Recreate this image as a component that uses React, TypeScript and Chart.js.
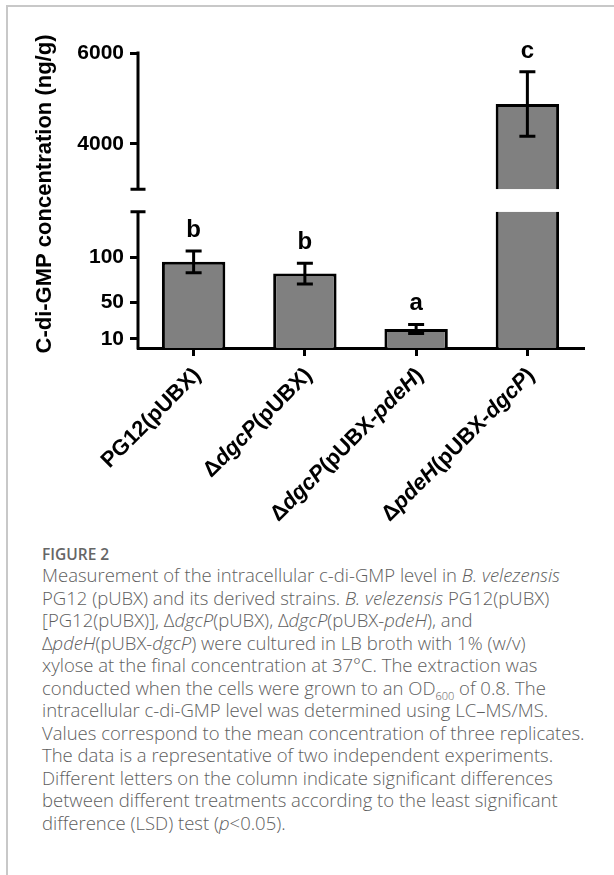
import React, { useEffect, useRef } from "react";
import { Chart, registerables } from "chart.js";

Chart.register(...registerables);

// ---- data ----
const categories = ["PG12(pUBX)", "ΔdgcP(pUBX)", "ΔdgcP(pUBX-pdeH)", "ΔpdeH(pUBX-dgcP)"];
const italicWords = ["dgcP", "pdeH"];
const means = [95, 82, 21, 4875];
const errors = [12, 11.5, 5, 710];
const letters = ["b", "b", "a", "c"];
const lowRange = [0, 150];
const highRange = [2500, 6000];
const highAxisStart = 3000;
const lowTicks = [10, 50, 100];
const highTicks = [4000, 6000];
const yTitle = "C-di-GMP concentration (ng/g)";

const FONT = "'Liberation Sans', Arial, sans-serif";

function splitItalic(label: string) {
  const re = new RegExp("(" + italicWords.join("|") + ")");
  return label
    .split(re)
    .filter((s) => s.length > 0)
    .map((s) => ({ t: s, i: italicWords.includes(s) }));
}

const scaleClip = {
  id: "scaleClip",
  beforeDatasetDraw(chart: any, args: any) {
    const ys = args.meta.yScale;
    const ca = chart.chartArea;
    const ctx = chart.ctx;
    ctx.save();
    ctx.beginPath();
    ctx.rect(ca.left - 5, ys.top, ca.right - ca.left + 10, ys.bottom - ys.top + 5);
    ctx.clip();
  },
  afterDatasetDraw(chart: any) {
    chart.ctx.restore();
  },
};

const decorations = {
  id: "decorations",
  afterDatasetsDraw(chart: any) {
    const ctx = chart.ctx;
    const xs = chart.scales.x;
    const yH = chart.scales.yHigh;
    const yL = chart.scales.yLow;
    const ca = chart.chartArea;
    const ax = ca.left;
    ctx.save();
    ctx.strokeStyle = "#000";
    ctx.lineWidth = 3;
    ctx.lineCap = "butt";
    const capHalf = 7.5;
    // broken y axis: upper segment
    let top = yH.getPixelForValue(highRange[1]) - 1.5;
    let bot = yH.getPixelForValue(highAxisStart);
    ctx.beginPath();
    ctx.moveTo(ax, top);
    ctx.lineTo(ax, bot + 1.5);
    ctx.moveTo(ax - capHalf, bot);
    ctx.lineTo(ax + capHalf, bot);
    ctx.stroke();
    // lower segment
    top = yL.getPixelForValue(lowRange[1]);
    bot = yL.getPixelForValue(lowRange[0]);
    ctx.beginPath();
    ctx.moveTo(ax, top - 1.5);
    ctx.lineTo(ax, bot + 1.5);
    ctx.moveTo(ax - capHalf, top);
    ctx.lineTo(ax + capHalf, top);
    ctx.stroke();

    // error bars + letters
    for (let i = 0; i < means.length; i++) {
      const sc = means[i] > lowRange[1] ? yH : yL;
      const x = xs.getPixelForValue(i);
      const yt = sc.getPixelForValue(means[i] + errors[i]);
      const yb = sc.getPixelForValue(means[i] - errors[i]);
      ctx.lineWidth = 3;
      ctx.beginPath();
      ctx.moveTo(x, yt);
      ctx.lineTo(x, yb);
      ctx.moveTo(x - 8, yt);
      ctx.lineTo(x + 8, yt);
      ctx.moveTo(x - 8, yb);
      ctx.lineTo(x + 8, yb);
      ctx.stroke();
      ctx.fillStyle = "#000";
      ctx.font = `bold 24px ${FONT}`;
      ctx.textAlign = "center";
      ctx.textBaseline = "alphabetic";
      ctx.fillText(letters[i], x, yt - 14);
    }

    // y title
    ctx.save();
    ctx.translate(45, 194);
    ctx.rotate(-Math.PI / 2);
    ctx.font = `bold 22px ${FONT}`;
    ctx.textAlign = "center";
    ctx.textBaseline = "middle";
    ctx.fillStyle = "#000";
    ctx.fillText(yTitle, 0, 0);
    ctx.restore();

    // x labels (rotated, with italic gene names)
    const axisY = ca.bottom;
    for (let i = 0; i < categories.length; i++) {
      const parts = splitItalic(categories[i]);
      const x = xs.getPixelForValue(i);
      ctx.save();
      ctx.translate(x + 4, axisY + 24);
      ctx.rotate(-Math.PI / 4);
      ctx.textBaseline = "middle";
      ctx.textAlign = "left";
      ctx.fillStyle = "#000";
      let total = 0;
      const widths = parts.map((p) => {
        ctx.font = `${p.i ? "italic " : ""}bold 22px ${FONT}`;
        const w = ctx.measureText(p.t).width;
        total += w;
        return w;
      });
      let cx = -total;
      parts.forEach((p, k) => {
        ctx.font = `${p.i ? "italic " : ""}bold 22px ${FONT}`;
        ctx.fillText(p.t, cx, 0);
        cx += widths[k];
      });
      ctx.restore();
    }
    ctx.restore();
  },
};

const I = ({ children }: { children: React.ReactNode }) => <i>{children}</i>;

export default function App() {
  const ref = useRef<HTMLCanvasElement | null>(null);
  useEffect(() => {
    document.body.style.margin = "0";
    if (!ref.current) return;
    const lowData = means.slice();
    const highData = means.map((v) => (v > lowRange[1] ? [highAxisStart, v] : null));
    const tickFont = { family: FONT, size: 21, weight: "bold" as const };
    const yGrid = {
      display: true,
      drawOnChartArea: false,
      drawTicks: true,
      tickLength: 8,
      color: "#000",
      lineWidth: 3,
    };
    const chart = new Chart(ref.current, {
      type: "bar",
      data: {
        labels: categories,
        datasets: [
          {
            data: highData as any,
            yAxisID: "yHigh",
            backgroundColor: "#808080",
            borderColor: "#000",
            borderWidth: 3,
            grouped: false,
            categoryPercentage: 1,
            barPercentage: 0.57,
          },
          {
            data: lowData,
            yAxisID: "yLow",
            backgroundColor: "#808080",
            borderColor: "#000",
            borderWidth: 3,
            grouped: false,
            categoryPercentage: 1,
            barPercentage: 0.57,
          },
        ],
      },
      options: {
        animation: false,
        responsive: false,
        devicePixelRatio: 1,
        layout: { padding: { top: 53, right: 31, bottom: 152, left: 0 } },
        plugins: { legend: { display: false }, tooltip: { enabled: false } },
        scales: {
          x: {
            type: "category",
            offset: true,
            ticks: { display: false },
            grid: {
              display: true,
              drawOnChartArea: false,
              drawTicks: true,
              tickLength: 8,
              color: "#000",
              lineWidth: 3,
              offset: false,
            },
            border: { display: true, color: "#000", width: 3 },
            afterFit: (s: any) => {
              s.height = 40;
            },
          },
          yLow: {
            type: "linear",
            position: "left",
            stack: "y",
            stackWeight: 3,
            min: lowRange[0],
            max: lowRange[1],
            afterBuildTicks: (s: any) => {
              s.ticks = lowTicks.map((v) => ({ value: v }));
            },
            ticks: { color: "#000", font: tickFont, padding: 6, callback: (v: any) => String(v) },
            grid: yGrid,
            border: { display: false },
            afterFit: (s: any) => {
              s.width = 138;
            },
          },
          yHigh: {
            type: "linear",
            position: "left",
            stack: "y",
            stackWeight: 3.5,
            min: highRange[0],
            max: highRange[1],
            afterBuildTicks: (s: any) => {
              s.ticks = highTicks.map((v) => ({ value: v }));
            },
            ticks: { color: "#000", font: tickFont, padding: 6, callback: (v: any) => String(v) },
            grid: yGrid,
            border: { display: false },
            afterFit: (s: any) => {
              s.width = 138;
            },
          },
        },
      } as any,
      plugins: [scaleClip, decorations],
    });
    return () => chart.destroy();
  }, []);

  const capStyle: React.CSSProperties = {
    fontFamily: "'Open Sans', 'Noto Sans', sans-serif",
    fontSize: "18.5px",
    fontWeight: 300,
    lineHeight: "22.5px",
    color: "#5e5e5e",
    whiteSpace: "nowrap",
  };

  return (
    <div style={{ position: "fixed", left: 0, top: 0, width: 614, height: 875, background: "#fff", overflow: "hidden" }}>
      <div
        style={{
          position: "absolute",
          left: 6,
          top: 5,
          width: 640,
          height: 900,
          borderTop: "2px solid #c8c8c8",
          borderLeft: "2px solid #c8c8c8",
        }}
      />
      <canvas ref={ref} width={614} height={540} style={{ position: "absolute", left: 0, top: 0, width: 614, height: 540 }} />
      <div
        style={{
          position: "absolute",
          left: 42,
          top: 543,
          fontFamily: "'Open Sans', 'Noto Sans', sans-serif",
          fontSize: "15.5px",
          fontWeight: 600,
          color: "#666",
          lineHeight: "22px",
        }}
      >
        FIGURE 2
      </div>
      <div style={{ position: "absolute", left: 42, top: 564, ...capStyle }}>
        <div>
          Measurement of the intracellular c-di-GMP level in <I>B. velezensis</I>
        </div>
        <div>
          PG12 (pUBX) and its derived strains. <I>B. velezensis</I> PG12(pUBX)
        </div>
        <div>
          [PG12(pUBX)], Δ<I>dgcP</I>(pUBX), Δ<I>dgcP</I>(pUBX-<I>pdeH</I>), and
        </div>
        <div>
          Δ<I>pdeH</I>(pUBX-<I>dgcP</I>) were cultured in LB broth with 1% (w/v)
        </div>
        <div>xylose at the final concentration at 37°C. The extraction was</div>
        <div>
          conducted when the cells were grown to an OD<sub style={{ fontSize: "11px", lineHeight: 0 }}>600</sub> of 0.8. The
        </div>
        <div>intracellular c-di-GMP level was determined using LC–MS/MS.</div>
        <div>Values correspond to the mean concentration of three replicates.</div>
        <div>The data is a representative of two independent experiments.</div>
        <div>Different letters on the column indicate significant differences</div>
        <div>between different treatments according to the least significant</div>
        <div>
          difference (LSD) test (<I>p</I>&lt;0.05).
        </div>
      </div>
    </div>
  );
}
